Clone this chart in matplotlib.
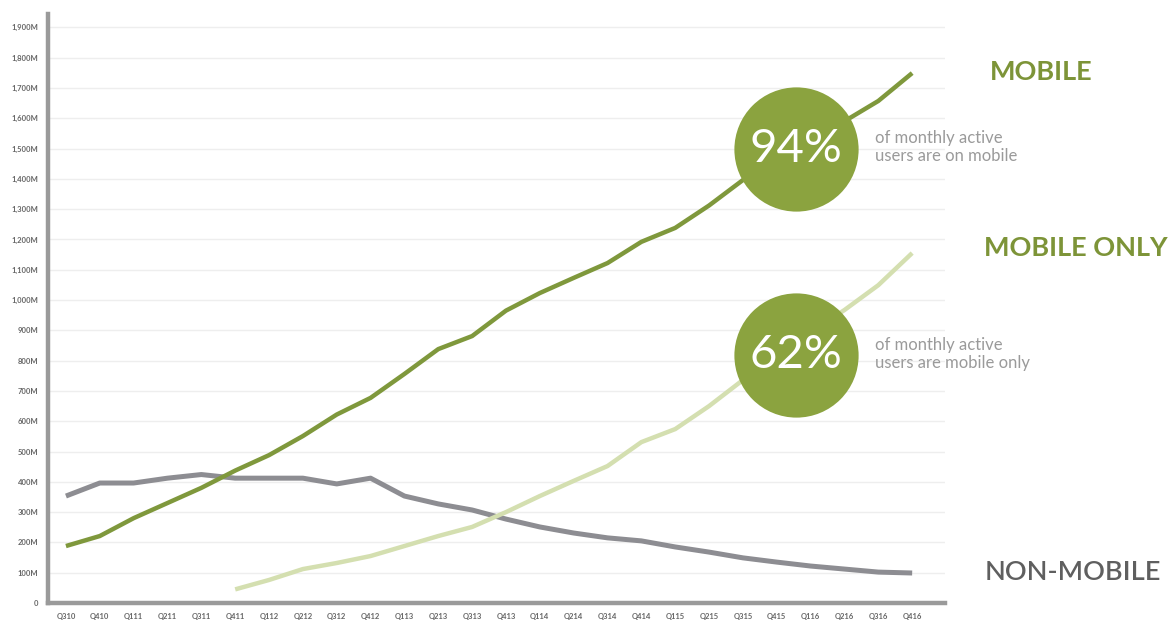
import matplotlib
matplotlib.use("Agg")
import matplotlib.pyplot as plt

quarters = ["Q310", "Q410", "Q111", "Q211", "Q311", "Q411", "Q112", "Q212", "Q312", "Q412",
            "Q113", "Q213", "Q313", "Q413", "Q114", "Q214", "Q314", "Q414", "Q115", "Q215",
            "Q315", "Q415", "Q116", "Q216", "Q316", "Q416"]

mobile = [188, 221, 280, 330, 380, 437, 488, 551, 622, 677,
          756, 838, 881, 965, 1023, 1073, 1122, 1192, 1238, 1312,
          1396, 1470, 1541, 1590, 1657, 1749]

mobile_only_start = 5  # first quarter with data (Q411)
mobile_only = [45, 76, 112, 132, 155, 188, 221, 251, 300, 353,
               403, 452, 531, 574, 650, 736, 815, 894, 967, 1049, 1155]

non_mobile = [353, 396, 396, 412, 424, 412, 412, 412, 393, 412,
              353, 327, 307, 277, 251, 231, 215, 205, 185, 168,
              149, 135, 122, 112, 102, 99]

yticks = list(range(0, 2000, 100))
ylabels = ["0"] + [f"{v:,}M" for v in yticks[1:]]

C_MOBILE = "#7f983c"
C_CIRCLE = "#8ba33f"
C_ONLY = "#d4dfb0"
C_NON = "#8d8d92"
C_LABEL_GREEN = "#7d9438"
C_LABEL_GRAY = "#5f5f5f"

plt.rcParams['font.family'] = ['Lato', 'DejaVu Sans']

fig = plt.figure(figsize=(11.68, 6.21), dpi=100)
ax = fig.add_axes([48/1168, 1-603/621, (945-48)/1168, (603-14)/621])

x = list(range(len(quarters)))
ax.plot(x, non_mobile, color=C_NON, lw=3.6, solid_capstyle='butt', zorder=3)
ax.plot(x[mobile_only_start:], mobile_only, color=C_ONLY, lw=3.2, solid_capstyle='butt', zorder=3)
ax.plot(x, mobile, color=C_MOBILE, lw=3.2, solid_capstyle='butt', zorder=4)

ax.set_xlim(-0.53, 25.97)
ax.set_ylim(0, 1944)
ax.set_yticks(yticks)
ax.set_yticklabels(ylabels)
ax.set_xticks(x)
ax.set_xticklabels(quarters)
ax.tick_params(axis='both', length=0, labelsize=5.5, colors="#666666")
ax.tick_params(axis='y', pad=7)
ax.tick_params(axis='x', pad=7)
for t in ax.get_yticklabels() + ax.get_xticklabels():
    t.set_fontweight('bold')

ax.grid(axis='y', color="#eeeeee", lw=1.0, zorder=0)
ax.set_axisbelow(True)
for s in ["top", "right"]:
    ax.spines[s].set_visible(False)
for s in ["left", "bottom"]:
    ax.spines[s].set_color("#9a9a9a")
    ax.spines[s].set_linewidth(3.2)

# Callout circles
ax.scatter([21.57], [1500], s=8000, color=C_CIRCLE, zorder=6, linewidths=0)
ax.scatter([21.57], [818], s=8000, color=C_CIRCLE, zorder=6, linewidths=0)
ax.text(21.57, 1500, "94%", color="white", fontsize=34, ha="center", va="center", zorder=7)
ax.text(21.57, 818, "62%", color="white", fontsize=34, ha="center", va="center", zorder=7)

fig.text(875/1168, 1-147/621, "of monthly active\nusers are on mobile", color="#9a9a9a",
         fontsize=12, ha="left", va="center", linespacing=1.15)
fig.text(875/1168, 1-354/621, "of monthly active\nusers are mobile only", color="#9a9a9a",
         fontsize=12, ha="left", va="center", linespacing=1.15)

fig.text(1041/1168, 1-72/621, "MOBILE", color=C_LABEL_GREEN, fontsize=19.5, fontweight="bold",
         ha="center", va="center")
fig.text(1076/1168, 1-248/621, "MOBILE ONLY", color=C_LABEL_GREEN, fontsize=19.5, fontweight="bold",
         ha="center", va="center")
fig.text(1073/1168, 1-573/621, "NON-MOBILE", color=C_LABEL_GRAY, fontsize=19.5, fontweight="semibold",
         ha="center", va="center")

fig.savefig("out.png", dpi=100)
